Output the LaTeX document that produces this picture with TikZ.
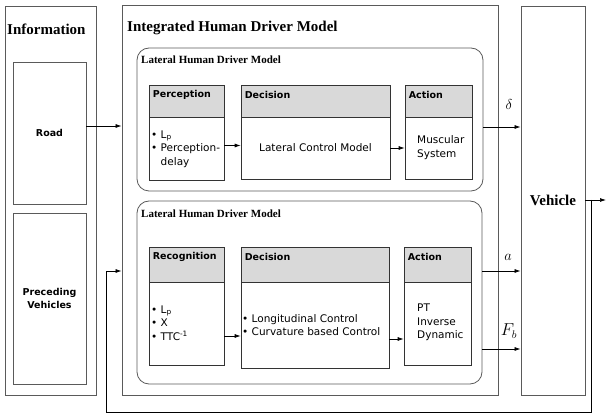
\documentclass[tikz,border=0pt]{standalone}
\usepackage{fontspec}
\setmainfont{Liberation Serif}
\setsansfont{DejaVu Sans}
\usetikzlibrary{arrows.meta}
\definecolor{framegray}{HTML}{5A5A5A}
\definecolor{headgray}{HTML}{D9D9D9}
\tikzset{
  outerbox/.style={draw=framegray, line width=0.9pt, minimum width=#1, inner sep=0pt},
  latbox/.style={draw=framegray, line width=0.8pt, rounded corners=12pt, inner sep=0pt},
  headbox/.style={draw=black!80, fill=headgray, line width=0.7pt, inner sep=0pt},
  bodybox/.style={draw=black!80, line width=0.7pt, inner sep=0pt},
  title/.style={font=\bfseries\fontsize{15}{17}\selectfont, anchor=west, inner sep=0pt},
  subtitle/.style={font=\bfseries\fontsize{11}{13}\selectfont, anchor=west, inner sep=0pt},
  headtext/.style={font=\sffamily\bfseries\fontsize{9.5}{11}\selectfont, anchor=west, inner sep=0pt},
  bodytext/.style={font=\sffamily\fontsize{10.5}{13.5}\selectfont, align=left, inner sep=0pt},
  arrow/.style={-{Latex[length=6pt,width=4pt]}, line width=0.7pt}
}
\begin{document}
\begin{tikzpicture}[x=1pt,y=-1pt]
\useasboundingbox (0,0) rectangle (606,414);

% information column
\node[outerbox=91, minimum height=389] (info) at (50.5,200.5) {};
\node[title] (infot) at (7,29) {Information};
\node[outerbox=73, minimum height=142] (road) at (49.5,133) {};
\node[font=\sffamily\bfseries\fontsize{9.5}{11}\selectfont] (roadt) at (road) {Road};
\node[outerbox=73, minimum height=171] (prec) at (49.5,298.5) {};
\node[font=\sffamily\bfseries\fontsize{9.5}{13}\selectfont, align=center] (prect) at (prec) {Preceding\\Vehicles};

% integrated model
\node[outerbox=376, minimum height=390] (ihdm) at (310,200) {};
\node[title] (ihdmt) at (127,28) {Integrated Human Driver Model};

% lateral model (top)
\node[latbox, minimum width=346, minimum height=143] (lat1) at (310,119.5) {};
\node[subtitle] (lat1t) at (141,60) {Lateral Human Driver Model};
\node[headbox, minimum width=75, minimum height=32] (percH) at (186.5,101) {};
\node[bodybox, minimum width=75, minimum height=63] (percB) at (186.5,148.5) {};
\node[headtext] at ([shift={(4pt,-10pt)}]percH.north west) {Perception};
\node[bodytext, anchor=west] (percL) at (151,149) {\textbullet{} L\textsubscript{p}\\\textbullet{} Perception-\\\phantom{\textbullet{} }delay};
\node[headbox, minimum width=149, minimum height=32] (dec1H) at (315.5,101) {};
\node[bodybox, minimum width=149, minimum height=62] (dec1B) at (315.5,148) {};
\node[headtext] at ([shift={(4pt,-10pt)}]dec1H.north west) {Decision};
\node[bodytext] (dec1L) at (dec1B) {Lateral Control Model};
\node[headbox, minimum width=67, minimum height=32] (act1H) at (438.5,101) {};
\node[bodybox, minimum width=67, minimum height=62] (act1B) at (438.5,148) {};
\node[headtext] at ([shift={(4pt,-10pt)}]act1H.north west) {Action};
\node[bodytext, anchor=west] (act1L) at (417,147.5) {Muscular\\System};

% lateral model (bottom)
\node[latbox, minimum width=345, minimum height=183] (lat2) at (309.5,292.5) {};
\node[subtitle] (lat2t) at (141,214) {Lateral Human Driver Model};
\node[headbox, minimum width=75, minimum height=35] (recH) at (186.5,264.5) {};
\node[bodybox, minimum width=75, minimum height=83] (recB) at (186.5,323.5) {};
\node[headtext] at ([shift={(4pt,-10pt)}]recH.north west) {Recognition};
\node[bodytext, anchor=west] (recL) at (151,323) {\textbullet{} L\textsubscript{p}\\\textbullet{} X\\\textbullet{} TTC\textsuperscript{-1}};
\node[headbox, minimum width=148, minimum height=35] (dec2H) at (315,264.5) {};
\node[bodybox, minimum width=148, minimum height=86] (dec2B) at (315,325) {};
\node[headtext] at ([shift={(4pt,-10pt)}]dec2H.north west) {Decision};
\node[bodytext, anchor=west] (dec2L) at (242,325) {\textbullet{} Longitudinal Control\\\textbullet{} Curvature based Control};
\node[headbox, minimum width=67, minimum height=35] (act2H) at (437.5,264.5) {};
\node[bodybox, minimum width=67, minimum height=83] (act2B) at (437.5,323.5) {};
\node[headtext] at ([shift={(4pt,-10pt)}]act2H.north west) {Action};
\node[bodytext, anchor=west] (act2L) at (417,322.5) {PT\\Inverse\\Dynamic};

% vehicle
\node[outerbox=64, minimum height=389] (veh) at (553,200.5) {};
\node[font=\bfseries\fontsize{15}{17}\selectfont] (veht) at (veh) {Vehicle};

% connectors
\coordinate (roadout) at ([yshift=7pt]road.east);
\draw[arrow] (roadout) -- (roadout -| ihdm.west);
\coordinate (percout) at ([yshift=3pt]percB.east);
\draw[arrow] (percout) -- (percout -| dec1B.west);
\draw[arrow] (dec1B.east) -- (act1B.west);
\coordinate (recout) at ([yshift=-12.5pt]recB.east);
\draw[arrow] (recout) -- (recout -| dec2B.west);
\coordinate (dec2out) at ([yshift=-14pt]dec2B.east);
\draw[arrow] (dec2out) -- (dec2out -| act2B.west);

\coordinate (dout) at ([yshift=-7.5pt]lat1.east);
\draw[arrow] (dout) -- (dout -| veh.west);
\node[font=\fontsize{15}{16}\selectfont] (dlab) at (509,105) {$\delta$};
\coordinate (aout) at (lat2.east |- 0,271);
\draw[arrow] (aout) -- (aout -| veh.west);
\node[font=\fontsize{14}{16}\selectfont] (alab) at (508,257) {$a$};
\coordinate (fout) at (lat2.east |- 0,349);
\draw[arrow] (fout) -- (fout -| veh.west);
\node[font=\fontsize{16}{18}\selectfont] (flab) at (509,331) {$F_b$};

% output and feedback
\coordinate (vout) at (606,200);
\coordinate (fb1) at (591,200);
\coordinate (fb2) at (591,412);
\coordinate (fb3) at (106,412);
\coordinate (fb4) at (106,271);
\draw[arrow] (veh.east |- vout) -- (vout);
\draw[arrow] (fb1) -- (fb2) -- (fb3) -- (fb4) -- (fb4 -| ihdm.west);
\end{tikzpicture}
\end{document}
